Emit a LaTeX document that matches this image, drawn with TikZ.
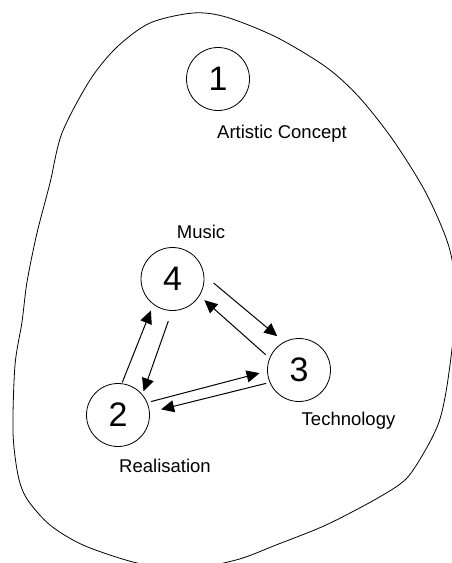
\documentclass[tikz,border=0pt]{standalone}
\usepackage{fontspec}
\setmainfont{Liberation Sans}
\usetikzlibrary{arrows.meta}

\begin{document}
\begin{tikzpicture}[x=1pt,y=-1pt,
        state/.style={draw,circle,line width=0.8pt,minimum size=63pt,inner sep=0pt,font=\fontsize{34}{36}\selectfont},
        tag/.style={anchor=base,font=\fontsize{18.5}{20}\selectfont},
        flow/.style={line width=1pt,-{Triangle[length=13pt,width=12pt]}}]
            \useasboundingbox (0,0) rectangle (452,563);
            % outline of the whole
            \draw[line width=0.8pt] plot[smooth cycle] coordinates {
                (193,13) (226,17) (276,37) (326,67) (359,97) (393,140) (426,193) (449,247)
                (457,300) (452,349) (446,392) (439,422) (426,449) (406,479) (376,499)
                (326,525) (276,545) (236,560) (180,570) (133,562) (83,545) (50,525)
                (27,499) (18,475) (13,432) (15,365) (22,322) (27,282) (37,233) (50,183)
                (62,133) (90,80) (117,47) (150,23)};
            \foreach \n/\x/\y in {1/218/79, 4/172.5/279, 3/299/370, 2/118/415}
                \node[state] (n\n) at (\x,\y) {\n};
            \node[tag] (concept) at (282,138.5) {Artistic Concept};
            \node[tag] (music) at (201,238.5) {Music};
            \node[tag] (tech) at (348.5,425.5) {Technology};
            \node[tag] (real) at (165,472.5) {Realisation};
            % connectors
            \draw[flow,shorten <=12.4pt,shorten >=8.8pt] (n4.7) -- (n3.118);
            \draw[flow,shorten <=5pt,shorten >=6.4pt] (n3.158) -- (n4.-32);
            \draw[flow,shorten <=1pt,shorten >=6.5pt] (n2.83) -- (n4.233);
            \draw[flow,shorten <=10.9pt,shorten >=3.3pt] (n4.-91) -- (n2.40);
            \draw[flow,shorten <=3.9pt,shorten >=7.8pt] (n2.23) -- (n3.182);
            \draw[flow,shorten <=3.5pt,shorten >=11.7pt] (n3.203) -- (n2.5);
        \end{tikzpicture}
\end{document}
